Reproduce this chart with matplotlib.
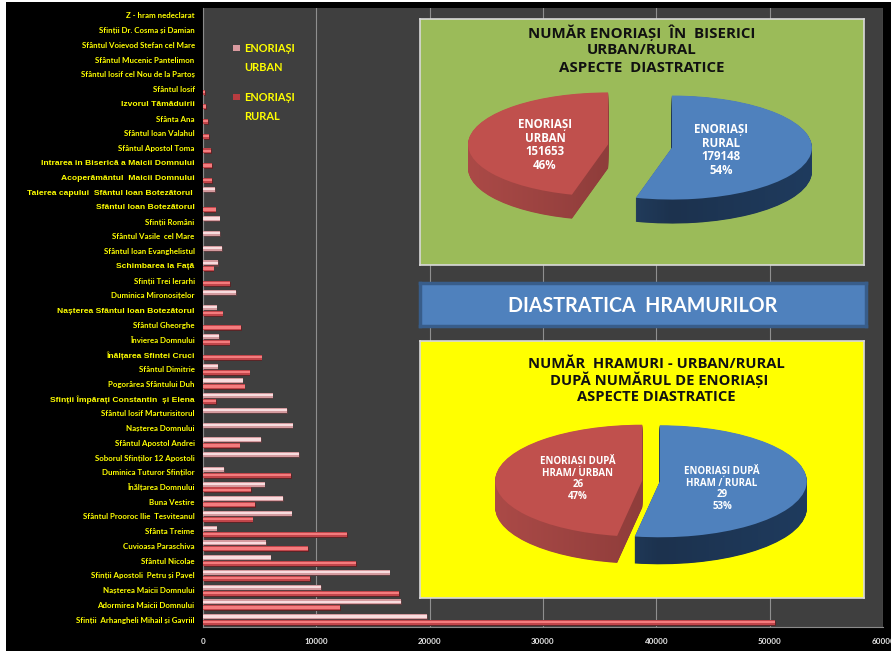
import numpy as np
import matplotlib
matplotlib.use('Agg')
import matplotlib.pyplot as plt
from matplotlib.colors import LinearSegmentedColormap
from matplotlib.patches import Rectangle

W, H = 891, 651

# rows from the bottom of the chart upwards
hramuri = ['Sfinții  Arhangheli Mihail și Gavriil', 'Adormirea Maicii Domnului', 'Nașterea Maicii Domnului',
           'Sfinții Apostoli  Petru și Pavel', 'Sfântul Nicolae', 'Cuvioasa Paraschiva', 'Sfânta Treime',
           'Sfântul Prooroc Ilie  Tesviteanul', 'Buna Vestire', 'Înălțarea Domnului', 'Duminica Tuturor Sfinților',
           'Soborul Sfinților 12 Apostoli', 'Sfântul Apostol Andrei', 'Nașterea Domnului', 'Sfântul Iosif Marturisitorul',
           'Sfinții Împărați Constantin  și Elena', 'Pogorârea Sfântului Duh', 'Sfântul Dimitrie',
           'Înălțarea Sfintei Cruci', 'Învierea Domnului', 'Sfântul Gheorghe', 'Nașterea Sfântul Ioan Botezătorul',
           'Duminica Mironosițelor', 'Sfinții Trei Ierarhi', 'Schimbarea la Față', 'Sfântul Ioan Evanghelistul',
           'Sfântul Vasile  cel Mare', 'Sfinții Români', 'Sfântul Ioan Botezătorul', 'Taierea capului  Sfântul Ioan Botezătorul ',
           'Acoperământul  Maicii Domnului', 'Intrarea in Biserică a Maicii Domnului', 'Sfântul Apostol Toma',
           'Sfântul Ioan Valahul', 'Sfânta Ana', 'Izvorul Tămăduirii', 'Sfântul Iosif', 'Sfântul Iosif cel Nou de la Partoș',
           'Sfântul Mucenic Pantelimon', 'Sfântul Voievod Stefan cel Mare', 'Sfinții Dr. Cosma și Damian', 'Z - hram nedeclarat']
urban = [19800, 17490, 10400, 16460, 5980, 5565, 1210, 7830, 7070, 5450, 1880, 8507, 5150, 7920, 7420, 6155, 3505, 1300,
         0, 1410, 0, 1210, 2945, 0, 1350, 1680, 1500, 1475, 0, 1087, 0, 0, 0, 0, 0, 0, 0, 0, 0, 0, 0, 0]
rural = [50500, 12100, 17310, 9480, 13516, 9300, 12720, 4390, 4594, 4240, 7770, 0, 3240, 0, 0, 1150, 3680, 4120,
         5185, 2360, 3355, 1737, 0, 2385, 945, 0, 0, 0, 1120, 0, 820, 820, 735, 530, 470, 290, 177, 0, 0, 0, 0, 0]
# these labels are set in the larger Arial-like face
arial_rows = ['Izvorul Tămăduirii', 'Intrarea in Biserică a Maicii Domnului', 'Acoperământul  Maicii Domnului',
              'Taierea capului  Sfântul Ioan Botezătorul ', 'Sfântul Ioan Botezătorul', 'Schimbarea la Față',
              'Nașterea Sfântul Ioan Botezătorul', 'Înălțarea Sfintei Cruci', 'Sfinții Împărați Constantin  și Elena']
x_ticks = [0, 10000, 20000, 30000, 40000, 50000, 60000]

pie1_values = [151653, 179148]
pie2_values = [26, 29]


def box(x0, y0, x1, y1):
    # pixel box (y from the top) to figure fractions
    return [x0 / W, 1 - y1 / H, (x1 - x0) / W, (y1 - y0) / H]


def panel(x0, y0, x1, y1, face, edge, lw):
    ax = fig.add_axes(box(x0, y0, x1, y1), facecolor=face)
    ax.set_xticks([])
    ax.set_yticks([])
    for s in ax.spines.values():
        s.set_color(edge)
        s.set_linewidth(lw)
    return ax


def pie3d(cx, cy, rx, ry, depth_px, values, explode):
    ax = fig.add_axes(box(cx - 1.4 * rx, cy - 1.4 * ry, cx + 1.4 * rx, cy + 1.4 * ry + depth_px * 2))
    ax.patch.set_visible(False)
    xlim = (-1.4, 1.4)
    ylim = (-1.4 - 2 * depth_px / ry, 1.4)
    depth = depth_px / ry
    grad = np.linspace(0, 1, 256).reshape(1, -1)
    for d in np.linspace(depth, 0, int(depth_px) * 2)[:-1]:
        wedges, _ = ax.pie(values, startangle=90, explode=explode, center=(0, -d), radius=1)
        for w, cmap in zip(wedges, [side_red, side_blue]):
            w.set_visible(False)
            im = ax.imshow(grad, extent=(w.center[0] - 1, w.center[0] + 1, -3, 3), cmap=cmap, aspect='auto')
            im.set_clip_path(w)
    wedges, _ = ax.pie(values, startangle=90, explode=explode, colors=['#C0504D', '#4F81BD'], radius=1)
    for w in wedges:
        w.set_zorder(5)
    ax.set_aspect('auto')
    ax.set_xlim(xlim)
    ax.set_ylim(ylim)
    ax.axis('off')


side_red = LinearSegmentedColormap.from_list('r', ['#ab4a47', '#8f3d3b', '#7c2f2e'])
side_blue = LinearSegmentedColormap.from_list('b', ['#2f5680', '#1c324e', '#1f3b5e'])

fig = plt.figure(figsize=(W / 100, H / 100), dpi=100, facecolor='white')
fig.patches.append(Rectangle((6 / W, 0), 1, 1 - 2 / H, transform=fig.transFigure, facecolor='black',
                             edgecolor='none', zorder=-1))

# bar chart
ax = fig.add_axes(box(203, 8, 883, 627), facecolor='#3f3f3f')
y = np.arange(len(hramuri))
off = 0.2
h = 0.34
ax.barh(y + off - 0.07, urban, h, left=60, color='#5c3f41', zorder=2)
ax.barh(y - off - 0.07, rural, h, left=60, color='#5a2527', zorder=2)
ax.barh(y + off, urban, h, color='#d49a9e', zorder=3)
ax.barh(y - off, rural, h, color='#c2454a', zorder=3)
ax.barh(y + off + 0.02, urban, h * 0.45, color='#f8dcde', zorder=4)
ax.barh(y - off + 0.02, rural, h * 0.45, color='#f47c7e', zorder=4)
ax.set_xlim(0, 60000)
ax.set_ylim(-0.5, len(hramuri) - 0.5)
ax.set_xticks(x_ticks)
ax.set_xticklabels([str(t) for t in x_ticks], color='#e8e8e8', fontsize=5.8, fontweight='bold', family='Lato')
ax.set_yticks(y)
ax.set_yticklabels(hramuri, color='#ffff00', fontsize=5.7, fontweight='bold', family='Lato')
for lab in ax.get_yticklabels():
    if lab.get_text() in arial_rows:
        lab.set_family('Liberation Sans')
        lab.set_fontsize(6.1)
ax.tick_params(axis='x', length=0, pad=8)
ax.tick_params(axis='y', length=0, pad=6)
ax.grid(axis='x', color='#8f8f8f', lw=0.8, zorder=1)
ax.set_axisbelow(True)
for s in ['top', 'right']:
    ax.spines[s].set_visible(False)
for s in ['left', 'bottom']:
    ax.spines[s].set_color('#8a8a8a')

# legend, drawn by hand to keep the marker level with the first line
for name, color, top in [('ENORIAȘI\nURBAN', '#d99a9f', 43), ('ENORIAȘI\nRURAL', '#b83c40', 92)]:
    fig.text(244 / W, 1 - top / H, name, color='#ffff00', fontsize=7.9, fontweight='bold', family='Lato',
             va='top', linespacing=1.85, zorder=6)
    fig.patches.append(Rectangle((233 / W, 1 - (top + 8) / H), 7 / W, 6 / H, transform=fig.transFigure,
                                 facecolor=color, edgecolor='none', zorder=6))

# green panel
panel(420, 19, 864, 265, '#9BBB59', '#d9d9d9', 1.2)
pie3d(640, 146, 140, 52, 24, pie1_values, (0.23, 0.23))
fig.text(642 / W, 1 - 33 / H, 'NUMĂR ENORIAȘI  ÎN  BISERICI', color='#111111', fontsize=10.8, fontweight='bold',
         family='Open Sans', ha='center', va='center')
fig.text(642 / W, 1 - 50 / H, 'URBAN/RURAL', color='#111111', fontsize=10.8, fontweight='bold', family='Open Sans',
         ha='center', va='center')
fig.text(642 / W, 1 - 68 / H, 'ASPECTE  DIASTRATICE', color='#111111', fontsize=10.8, fontweight='bold',
         family='Open Sans', ha='center', va='center')
fig.text(545 / W, 1 - 145 / H, 'ENORIAȘI\nURBAN\n151653\n46%', color='white', fontsize=8.3, fontweight='bold',
         family='Open Sans', ha='center', va='center', linespacing=1.09)
fig.text(721 / W, 1 - 150 / H, 'ENORIAȘI\nRURAL\n179148\n54%', color='white', fontsize=8.3, fontweight='bold',
         family='Open Sans', ha='center', va='center', linespacing=1.09)

# banner
panel(420, 283, 866, 326, '#4F81BD', '#385D8A', 2.5)
fig.text(643 / W, 1 - 306 / H, 'DIASTRATICA  HRAMURILOR', color='white', fontsize=14.1, fontweight='bold',
         family='Lato', ha='center', va='center')

# yellow panel
panel(420, 341, 864, 598, '#FFFF00', '#d9d9d9', 1.2)
pie3d(651, 481, 147, 56, 27, pie2_values, (0.06, 0.06))
fig.text(656 / W, 1 - 364 / H, 'NUMĂR  HRAMURI - URBAN/RURAL', color='#111111', fontsize=10.6, fontweight='bold',
         family='Open Sans', ha='center', va='center')
fig.text(659 / W, 1 - 380 / H, 'DUPĂ NUMĂRUL DE ENORIAȘI', color='#111111', fontsize=10.6, fontweight='bold',
         family='Open Sans', ha='center', va='center')
fig.text(656 / W, 1 - 397 / H, 'ASPECTE DIASTRATICE', color='#111111', fontsize=10.6, fontweight='bold',
         family='Open Sans', ha='center', va='center')
fig.text(578 / W, 1 - 478 / H, 'ENORIAȘI DUPĂ\nHRAM/ URBAN\n26\n47%', color='white', fontsize=7, fontweight='bold',
         family='Open Sans', ha='center', va='center', linespacing=1.1)
fig.text(722 / W, 1 - 488 / H, 'ENORIAȘI DUPĂ\nHRAM / RURAL\n29\n53%', color='white', fontsize=7, fontweight='bold',
         family='Open Sans', ha='center', va='center', linespacing=1.1)

fig.savefig('out.png', dpi=100)
